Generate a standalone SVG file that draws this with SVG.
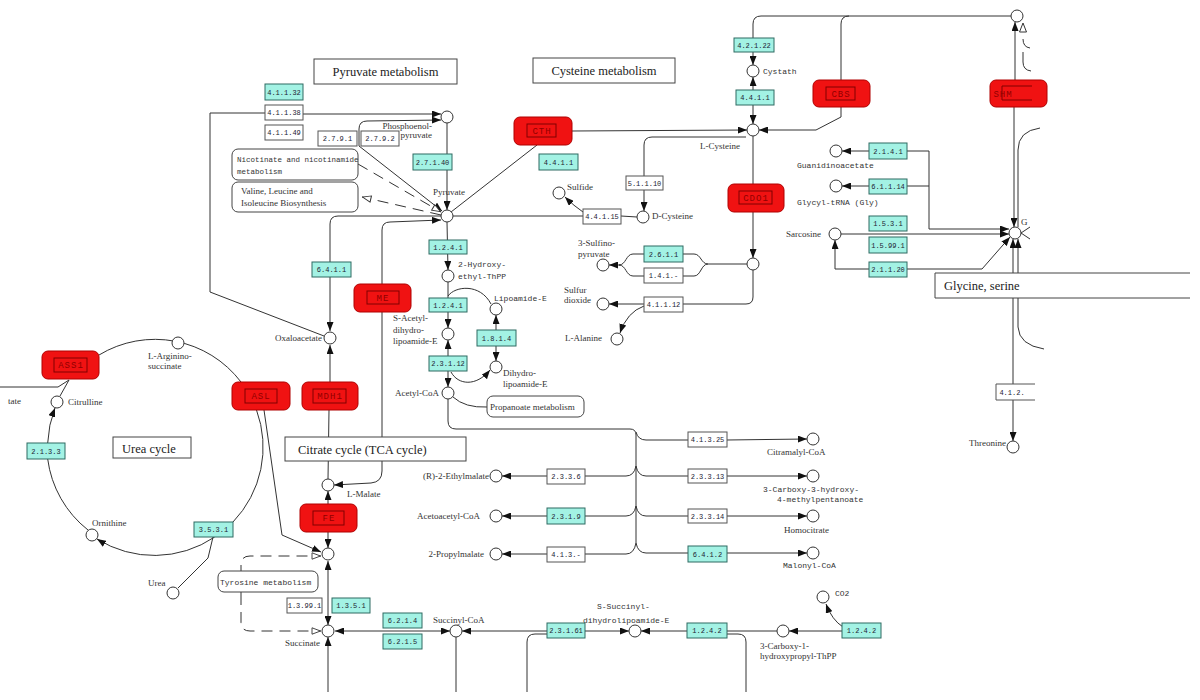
<svg xmlns="http://www.w3.org/2000/svg" width="1200" height="700" viewBox="0 0 1200 700">
<defs>
<marker id="a" viewBox="0 0 10 10" refX="10" refY="5" markerWidth="9" markerHeight="7" preserveAspectRatio="none" markerUnits="userSpaceOnUse" orient="auto-start-reverse"><path d="M0,0 L10,5 L0,10 z" fill="#111"/></marker>
<marker id="h" viewBox="0 0 10 10" refX="10" refY="5" markerWidth="10" markerHeight="8" preserveAspectRatio="none" markerUnits="userSpaceOnUse" orient="auto"><path d="M1,1 L9.5,5 L1,9 z" fill="#fff" stroke="#333" stroke-width="1"/></marker>
<style>
.l{fill:none;stroke:#333;stroke-width:1}
.d{stroke-dasharray:11,7}
.ae{marker-end:url(#a)}
.as{marker-start:url(#a)}
.he{marker-end:url(#h)}
.cp{fill:#fff;stroke:#333;stroke-width:1}
.c rect{fill:#a3f2e4;stroke:#2e6b62;stroke-width:1}
.w rect,.w path{fill:#fff;stroke:#555;stroke-width:1}
.c text,.w text{font-family:"Liberation Mono",monospace;font-size:7px;fill:#223;text-anchor:middle}
.g .o{fill:#f01212;stroke:#b00000;stroke-width:1}
.g .i{fill:none;stroke:#800000;stroke-width:1}
.g text{font-family:"Liberation Mono",monospace;font-size:9px;fill:#900000;text-anchor:middle;letter-spacing:1px}
.mp rect,.mp path{fill:#fff;stroke:#444;stroke-width:1}
.t{font-family:"Liberation Serif",serif;font-size:12.5px;fill:#222}
.s{font-family:"Liberation Serif",serif;font-size:9px;fill:#333}
.m{font-family:"Liberation Mono",monospace;font-size:8px;fill:#333}
.k{font-family:"Liberation Mono",monospace;font-size:7.5px;fill:#333}
</style>
</defs>
<rect width="1200" height="700" fill="#fff"/>

<g id="connectors">
<path class="l ae" d="M303,114 L441,114"/>
<path class="l" d="M265,113 L210,113 L210,292 L324,336"/>
<path class="l ae" d="M359,146 L359,129 Q359,121 367,121 L441,120"/>
<path class="l ae" d="M359,146 L442,211"/>
<path class="l ae" d="M447,123 L447,210"/>
<path class="l d he" d="M358,164 L441,212"/>
<path class="l d he" d="M441,215 L362,197"/>
<path class="l" d="M451,212 L537,145"/>
<path class="l ae" d="M572,131 L747,130"/>
<path class="l" d="M453,216 L583,216"/>
<path class="l ae" d="M583,212 Q574,206 565,197"/>
<path class="l" d="M621,216 L637,217"/>
<path class="l ae" d="M746,137 L652,137 Q644,137 644,145 L644,211"/>
<path class="l ae" d="M753,52 L753,65"/>
<path class="l ae" d="M753,90 L753,77"/>
<path class="l ae" d="M753,105 L753,124"/>
<path class="l" d="M753,38 L753,24 Q753,16 761,16 L1011,16"/>
<path class="l" d="M841,80 L841,24 Q841,16 849,16"/>
<path class="l ae" d="M841,107 L841,117 L816,130 L759,130"/>
<path class="l" d="M753,136 L753,184"/>
<path class="l ae" d="M753,212 L753,258"/>
<path class="l" d="M747,264 L708,264 C701,264 701,254 694,254 L683,254 M708,264 C701,264 701,276 694,276 L683,276"/>
<path class="l" d="M644,254 L633,254 C626,254 626,265 619,265 M644,276 L633,276 C626,276 626,265 619,265"/>
<path class="l ae" d="M620,265 L609,265"/>
<path class="l" d="M753,270 L753,297 Q753,304 746,304 L683,304"/>
<path class="l ae" d="M644,304 L609,304"/>
<path class="l ae" d="M644,306 Q627,312 620,333"/>
<path class="l ae" d="M1015,80 L1015,22"/>
<polygon points="1023,23 1019.5,32 1026.5,32" fill="#fff" stroke="#333"/>
<path class="l" d="M1023,39 Q1023,47 1030,48 M1023,52 L1023,62 Q1023,70 1031,71"/>
<path class="l ae" d="M1014,107 L1014,227"/>
<path class="l" d="M1040,128 Q1018,131 1018,150 L1018,227"/>
<path class="l ae" d="M1018,327 L1018,239"/>
<path class="l" d="M1044,349 Q1019,345 1018,327"/>
<path class="l as ae" d="M1013,239 L1013,441"/>
<path class="l" d="M1030,227 L1021,233 L1030,239"/>
<path class="l ae" d="M869,151 L842,151"/>
<path class="l ae" d="M869,186 L842,186"/>
<path class="l ae" d="M907,151 L929,151 L929,229 L1009,229"/>
<path class="l" d="M907,186 L929,186"/>
<path class="l ae" d="M841,234 L1009,234"/>
<path class="l ae" d="M869,269 L835,269 L835,240"/>
<path class="l ae" d="M907,269 L982,269 L1010,237"/>
<path class="l ae" d="M447,222 L448,270"/>
<path class="l ae" d="M448,282 L448,328"/>
<path class="l" d="M448,296 C455,286 480,283 491,304"/>
<path class="l ae" d="M448,372 L448,340"/>
<path class="l ae" d="M448,372 L448,387"/>
<path class="l ae" d="M451,372 C458,385 476,387 490,370"/>
<path class="l ae" d="M496,330 L496,315"/>
<path class="l ae" d="M496,346 L496,361"/>
<path class="l" d="M453,397 Q465,408 487,407"/>
<path class="l" d="M448,399 L448,421 Q448,429 456,429 L630,429 Q636,429 636,435 L636,543"/>
<path class="l" d="M636,432 Q638,440 646,440 L688,440 M636,466 Q638,476 646,476 L688,476 M636,506 Q638,516 646,516 L688,516 M636,543 Q638,553 646,553 L688,553"/>
<path class="l" d="M636,466 Q634,476 626,476 L585,476 M636,506 Q634,516 626,516 L585,516 M636,543 Q634,554 626,554 L585,554"/>
<path class="l ae" d="M727,440 L807,439"/>
<path class="l ae" d="M727,476 L807,476"/>
<path class="l ae" d="M727,516 L807,516"/>
<path class="l ae" d="M727,553 L807,553"/>
<path class="l ae" d="M547,476 L502,476"/>
<path class="l ae" d="M547,516 L502,516"/>
<path class="l ae" d="M547,554 L502,554"/>
<path class="l ae" d="M441,216 L338,216 Q330,216 330,224 L330,331"/>
<path class="l ae" d="M382,284 L382,230 Q382,222 390,222 L441,220"/>
<path class="l ae" d="M330,382 L330,345"/>
<path class="l" d="M329,410 L328,479"/>
<path class="l ae" d="M382,312 L382,471 Q382,482 371,483 L334,485"/>
<path class="l ae" d="M328,504 L328,491"/>
<path class="l ae" d="M328,532 L328,548"/>
<path class="l as ae" d="M328,561 L328,625"/>
<path class="l ae" d="M328,692 L328,637"/>
<path class="l as ae" d="M335,631 L450,631"/>
<path class="l ae" d="M547,631 L462,631"/>
<path class="l ae" d="M585,631 L629,631"/>
<path class="l ae" d="M687,631 L641,631"/>
<path class="l" d="M527,692 L527,642 Q527,634 535,634 L547,634"/>
<path class="l" d="M727,631 L777,631"/>
<path class="l ae" d="M842,631 L789,631"/>
<path class="l ae" d="M843,627 Q832,620 826,604"/>
<path class="l" d="M727,634 L738,634 Q746,634 746,642 L746,692"/>
<path class="l" d="M456,637 L456,692"/>
<path class="l" d="M99,355 A108,108 0 0 1 241,382"/>
<path class="l" d="M256.5,410 A108,108 0 0 1 233,522"/>
<path class="l ae" d="M214.7,537 A108,108 0 0 1 97,539"/>
<path class="l" d="M88,530 A108,108 0 0 1 47.7,459"/>
<path class="l ae" d="M47.7,443 A108,108 0 0 1 55,408"/>
<path class="l" d="M60,396 L69,380 M0,387 L58,387 L69,380"/>
<path class="l" d="M213,537 L208,558 L178,588"/>
<path class="l ae" d="M264,410 L282,535 L321,552"/>
<path class="l d he" d="M241,594 L241,565 Q241,556 250,556 L321,556"/>
<path class="l d he" d="M241,594 L241,622 Q241,631 250,631 L321,631"/>
</g>

<g id="maps" class="mp">
<g id="map-pyruvate"><rect x="314" y="59" width="143" height="25"/><text class="t" x="385.5" y="76" text-anchor="middle">Pyruvate metabolism</text></g>
<g id="map-cysteine"><rect x="533" y="58" width="142" height="25"/><text class="t" x="604" y="75" text-anchor="middle">Cysteine metabolism</text></g>
<g id="map-nicotinate"><rect x="232" y="149" width="126" height="31" rx="6"/><text class="k" x="237" y="162">Nicotinate and nicotinamide</text><text class="k" x="237" y="174">metabolism</text></g>
<g id="map-valine"><rect x="232" y="182" width="126" height="30" rx="6"/><text class="s" x="241" y="194">Valine, Leucine and</text><text class="s" x="241" y="206">Isoleucine Biosynthesis</text></g>
<g id="map-propanoate"><rect x="487" y="396" width="97" height="21" rx="6"/><text class="s" x="490" y="410">Propanoate metabolism</text></g>
<g id="map-citrate"><rect x="285" y="437" width="181" height="24"/><text class="t" x="298" y="454">Citrate cycle (TCA cycle)</text></g>
<g id="map-urea"><rect x="113" y="437" width="78" height="21"/><text class="t" x="122" y="453">Urea cycle</text></g>
<g id="map-tyrosine"><rect x="218" y="571" width="100" height="21" rx="6"/><text class="m" x="220" y="585" font-size="8.5">Tyrosine metabolism</text></g>
<g id="map-glycine"><path d="M1190,273 L935,273 L935,298 L1190,298" fill="none"/><text class="t" x="944" y="290" font-size="12">Glycine, serine</text></g>
</g>

<g id="genes">
<g id="gene-CTH" class="g"><rect class="o" x="514" y="117" width="58" height="28" rx="6"/><rect class="i" x="527" y="124" width="29" height="13"/><text x="542" y="134">CTH</text></g>
<g id="gene-CBS" class="g"><rect class="o" x="813" y="80" width="57" height="27" rx="6"/><rect class="i" x="826" y="87" width="29" height="13"/><text x="841" y="97">CBS</text></g>
<g id="gene-SHM" class="g"><rect class="o" x="990" y="80" width="57" height="27" rx="6"/><path class="i" d="M1032,86 L1002,86 L1002,100 L1032,100"/><text x="1003" y="97" text-anchor="start">SHM</text></g>
<g id="gene-CDO1" class="g"><rect class="o" x="728" y="184" width="56" height="28" rx="6"/><rect class="i" x="739" y="191" width="33" height="13"/><text x="756" y="201">CDO1</text></g>
<g id="gene-ME" class="g"><rect class="o" x="354" y="284" width="57" height="28" rx="6"/><rect class="i" x="367" y="291" width="32" height="13"/><text x="383" y="301">ME</text></g>
<g id="gene-MDH1" class="g"><rect class="o" x="302" y="382" width="56" height="28" rx="6"/><rect class="i" x="313" y="389" width="33" height="14"/><text x="330" y="399">MDH1</text></g>
<g id="gene-ASS1" class="g"><rect class="o" x="42" y="351" width="57" height="28" rx="6"/><rect class="i" x="54" y="358" width="33" height="14"/><text x="71" y="368">ASS1</text></g>
<g id="gene-ASL" class="g"><rect class="o" x="232" y="382" width="58" height="28" rx="6"/><rect class="i" x="245" y="389" width="32" height="14"/><text x="261" y="399">ASL</text></g>
<g id="gene-FE" class="g"><rect class="o" x="300" y="504" width="57" height="28" rx="6"/><rect class="i" x="313" y="511" width="31" height="14"/><text x="329" y="521">FE</text></g>
</g>

<g id="enzymes">
<g id="ec-4-1-1-32" class="c"><rect x="265" y="84" width="38" height="16"/><text x="284" y="94.5">4.1.1.32</text></g>
<g id="ec-4-1-1-38" class="w"><rect x="265" y="105" width="38" height="15"/><text x="284" y="115">4.1.1.38</text></g>
<g id="ec-4-1-1-49" class="w"><rect x="265" y="125" width="38" height="15"/><text x="284" y="135">4.1.1.49</text></g>
<g id="ec-2-7-9-1" class="w"><rect x="318" y="131" width="39" height="15"/><text x="337.5" y="141">2.7.9.1</text></g>
<g id="ec-2-7-9-2" class="w"><rect x="361" y="131" width="38" height="15"/><text x="380" y="141">2.7.9.2</text></g>
<g id="ec-2-7-1-40" class="c"><rect x="413" y="154" width="39" height="16"/><text x="432.5" y="164.5">2.7.1.40</text></g>
<g id="ec-4-4-1-1a" class="c"><rect x="539" y="154" width="39" height="16"/><text x="558.5" y="164.5">4.4.1.1</text></g>
<g id="ec-4-2-1-22" class="c"><rect x="734" y="38" width="40" height="14"/><text x="754" y="47.5">4.2.1.22</text></g>
<g id="ec-4-4-1-1b" class="c"><rect x="736" y="90" width="38" height="15"/><text x="755" y="100">4.4.1.1</text></g>
<g id="ec-4-4-1-15" class="w"><rect x="583" y="209" width="38" height="15"/><text x="602" y="219">4.4.1.15</text></g>
<g id="ec-5-1-1-10" class="w"><rect x="626" y="176" width="37" height="14"/><text x="644.5" y="185.5">5.1.1.10</text></g>
<g id="ec-2-1-4-1" class="c"><rect x="869" y="143" width="38" height="16"/><text x="888" y="153.5">2.1.4.1</text></g>
<g id="ec-6-1-1-14" class="c"><rect x="869" y="179" width="38" height="15"/><text x="888" y="189">6.1.1.14</text></g>
<g id="ec-1-5-3-1" class="c"><rect x="869" y="216" width="38" height="15"/><text x="888" y="226">1.5.3.1</text></g>
<g id="ec-1-5-99-1" class="c"><rect x="869" y="237" width="38" height="16"/><text x="888" y="247.5">1.5.99.1</text></g>
<g id="ec-2-1-1-20" class="c"><rect x="869" y="262" width="38" height="15"/><text x="888" y="272">2.1.1.20</text></g>
<g id="ec-2-6-1-1" class="c"><rect x="644" y="246" width="39" height="16"/><text x="663.5" y="256.5">2.6.1.1</text></g>
<g id="ec-1-4-1-x" class="w"><rect x="644" y="268" width="39" height="15"/><text x="663.5" y="278">1.4.1.-</text></g>
<g id="ec-4-1-1-12" class="w"><rect x="644" y="297" width="39" height="15"/><text x="663.5" y="307">4.1.1.12</text></g>
<g id="ec-4-1-2-x" class="w"><path d="M1035,384 L996,384 L996,400 L1035,400"/><text x="1012" y="394.5">4.1.2.</text></g>
<g id="ec-1-2-4-1a" class="c"><rect x="429" y="240" width="38" height="14"/><text x="448" y="249.5">1.2.4.1</text></g>
<g id="ec-1-2-4-1b" class="c"><rect x="429" y="298" width="38" height="14"/><text x="448" y="307.5">1.2.4.1</text></g>
<g id="ec-2-3-1-12" class="c"><rect x="429" y="356" width="38" height="15"/><text x="448" y="366">2.3.1.12</text></g>
<g id="ec-1-8-1-4" class="c"><rect x="477" y="330" width="39" height="16"/><text x="496.5" y="340.5">1.8.1.4</text></g>
<g id="ec-6-4-1-1" class="c"><rect x="312" y="262" width="39" height="15"/><text x="331.5" y="272">6.4.1.1</text></g>
<g id="ec-4-1-3-25" class="w"><rect x="688" y="432" width="39" height="15"/><text x="707.5" y="442">4.1.3.25</text></g>
<g id="ec-2-3-3-13" class="w"><rect x="688" y="469" width="39" height="14"/><text x="707.5" y="478.5">2.3.3.13</text></g>
<g id="ec-2-3-3-14" class="w"><rect x="688" y="509" width="39" height="14"/><text x="707.5" y="518.5">2.3.3.14</text></g>
<g id="ec-6-4-1-2" class="c"><rect x="688" y="546" width="39" height="16"/><text x="707.5" y="556.5">6.4.1.2</text></g>
<g id="ec-2-3-3-6" class="w"><rect x="547" y="469" width="38" height="15"/><text x="566" y="479">2.3.3.6</text></g>
<g id="ec-2-3-1-9" class="c"><rect x="547" y="508" width="38" height="16"/><text x="566" y="518.5">2.3.1.9</text></g>
<g id="ec-4-1-3-x" class="w"><rect x="547" y="547" width="38" height="15"/><text x="566" y="557">4.1.3.-</text></g>
<g id="ec-2-1-3-3" class="c"><rect x="27" y="443" width="38" height="16"/><text x="46" y="453.5">2.1.3.3</text></g>
<g id="ec-3-5-3-1" class="c"><rect x="194" y="522" width="39" height="15"/><text x="213.5" y="532">3.5.3.1</text></g>
<g id="ec-1-3-99-1" class="w"><rect x="287" y="598" width="35" height="15"/><text x="304.5" y="608">1.3.99.1</text></g>
<g id="ec-1-3-5-1" class="c"><rect x="332" y="598" width="38" height="15"/><text x="351" y="608">1.3.5.1</text></g>
<g id="ec-6-2-1-4" class="c"><rect x="383" y="613" width="39" height="15"/><text x="402.5" y="623">6.2.1.4</text></g>
<g id="ec-6-2-1-5" class="c"><rect x="383" y="634" width="39" height="15"/><text x="402.5" y="644">6.2.1.5</text></g>
<g id="ec-2-3-1-61" class="c"><rect x="547" y="623" width="38" height="15"/><text x="566" y="633">2.3.1.61</text></g>
<g id="ec-1-2-4-2a" class="c"><rect x="687" y="623" width="40" height="15"/><text x="707" y="633">1.2.4.2</text></g>
<g id="ec-1-2-4-2b" class="c"><rect x="842" y="623" width="39" height="15"/><text x="861.5" y="633">1.2.4.2</text></g>
</g>

<g id="compounds">
<g id="c-pep"><circle class="cp" cx="447" cy="117" r="6"/><text class="s" x="432" y="129" text-anchor="end">Phosphoenol-</text><text class="s" x="432" y="138" text-anchor="end">pyruvate</text></g>
<g id="c-pyruvate"><circle class="cp" cx="447" cy="216" r="6"/><text class="s" x="433" y="195">Pyruvate</text></g>
<g id="c-sulfide"><circle class="cp" cx="559" cy="193" r="6"/><text class="s" x="567" y="190">Sulfide</text></g>
<g id="c-lcys"><circle class="cp" cx="753" cy="130" r="6"/><text class="s" x="700" y="149">L-Cysteine</text></g>
<g id="c-cystath"><circle class="cp" cx="753" cy="71" r="6"/><text class="m" x="763" y="74">Cystath</text></g>
<g id="c-dcys"><circle class="cp" cx="643" cy="217" r="6"/><text class="s" x="652" y="219">D-Cysteine</text></g>
<g id="c-top"><circle class="cp" cx="1017" cy="16" r="6"/></g>
<g id="c-guan"><circle class="cp" cx="836" cy="151" r="6"/><text class="m" x="797" y="168">Guanidinoacetate</text></g>
<g id="c-glytrna"><circle class="cp" cx="836" cy="186" r="6"/><text class="m" x="797" y="205">Glycyl-tRNA (Gly)</text></g>
<g id="c-sarcosine"><circle class="cp" cx="835" cy="234" r="6"/><text class="s" x="821" y="237" text-anchor="end">Sarcosine</text></g>
<g id="c-gly"><circle class="cp" cx="1015" cy="233" r="6"/><text class="s" x="1021" y="225">G</text></g>
<g id="c-sulfinoala"><circle class="cp" cx="753" cy="264" r="6"/></g>
<g id="c-sulfinopyr"><circle class="cp" cx="603" cy="265" r="6"/><text class="s" x="578" y="246">3-Sulfino-</text><text class="s" x="578" y="257">pyruvate</text></g>
<g id="c-so2"><circle class="cp" cx="603" cy="304" r="6"/><text class="s" x="564" y="293">Sulfur</text><text class="s" x="564" y="303">dioxide</text></g>
<g id="c-lala"><circle class="cp" cx="617" cy="339" r="6"/><text class="s" x="565" y="341">L-Alanine</text></g>
<g id="c-thr"><circle class="cp" cx="1013" cy="447" r="6"/><text class="s" x="1006" y="446" text-anchor="end">Threonine</text></g>
<g id="c-hethpp"><circle class="cp" cx="448" cy="276" r="6"/><text class="m" x="458" y="267">2-Hydroxy-</text><text class="m" x="458" y="279">ethyl-ThPP</text></g>
<g id="c-lipo"><circle class="cp" cx="496" cy="309" r="6"/><text class="m" x="494" y="301">Lipoamide-E</text></g>
<g id="c-sacetyl"><circle class="cp" cx="448" cy="334" r="6"/><text class="s" x="393" y="321">S-Acetyl-</text><text class="s" x="393" y="333">dihydro-</text><text class="s" x="393" y="344">lipoamide-E</text></g>
<g id="c-dihydrolipo"><circle class="cp" cx="496" cy="367" r="6"/><text class="s" x="503" y="376">Dihydro-</text><text class="s" x="503" y="387">lipoamide-E</text></g>
<g id="c-acetylcoa"><circle class="cp" cx="448" cy="393" r="6"/><text class="s" x="439" y="396" text-anchor="end">Acetyl-CoA</text></g>
<g id="c-oxalo"><circle class="cp" cx="330" cy="338" r="6"/><text class="s" x="322" y="341" text-anchor="end">Oxaloacetate</text></g>
<g id="c-argsucc"><circle class="cp" cx="178" cy="343" r="6"/><text class="s" x="148" y="359">L-Arginino-</text><text class="s" x="148" y="369">succinate</text></g>
<g id="c-citrulline"><circle class="cp" cx="57" cy="402" r="6"/><text class="s" x="68" y="405">Citrulline</text></g>
<g id="c-aspartate"><text class="s" x="8" y="404">tate</text></g>
<g id="c-ornithine"><circle class="cp" cx="92" cy="535" r="6"/><text class="s" x="92" y="526">Ornithine</text></g>
<g id="c-urea"><circle class="cp" cx="173" cy="593" r="6"/><text class="s" x="148" y="586">Urea</text></g>
<g id="c-lmalate"><circle class="cp" cx="328" cy="485" r="6"/><text class="s" x="347" y="497">L-Malate</text></g>
<g id="c-fumarate"><circle class="cp" cx="328" cy="554" r="6"/></g>
<g id="c-succinate"><circle class="cp" cx="328" cy="631" r="6"/><text class="s" x="285" y="646">Succinate</text></g>
<g id="c-succcoa"><circle class="cp" cx="456" cy="631" r="6"/><text class="s" x="433" y="623">Succinyl-CoA</text></g>
<g id="c-ssucc"><circle class="cp" cx="635" cy="631" r="6"/><text class="m" x="597" y="609">S-Succinyl-</text><text class="m" x="583" y="623">dihydrolipoamide-E</text></g>
<g id="c-carboxythpp"><circle class="cp" cx="783" cy="631" r="6"/><text class="s" x="760" y="649">3-Carboxy-1-</text><text class="s" x="760" y="659">hydroxypropyl-ThPP</text></g>
<g id="c-co2"><circle class="cp" cx="823" cy="597" r="6"/><text class="m" x="835" y="596">CO2</text></g>
<g id="c-citramalyl"><circle class="cp" cx="813" cy="439" r="6"/><text class="s" x="767" y="455">Citramalyl-CoA</text></g>
<g id="c-carboxyhm"><circle class="cp" cx="813" cy="476" r="6"/><text class="m" x="763" y="492">3-Carboxy-3-hydroxy-</text><text class="m" x="777" y="502">4-methylpentanoate</text></g>
<g id="c-homocitrate"><circle class="cp" cx="813" cy="516" r="6"/><text class="s" x="784" y="533">Homocitrate</text></g>
<g id="c-malonyl"><circle class="cp" cx="813" cy="553" r="6"/><text class="m" x="783" y="568">Malonyl-CoA</text></g>
<g id="c-ethylmalate"><circle class="cp" cx="496" cy="476" r="6"/><text class="s" x="489" y="479" text-anchor="end">(R)-2-Ethylmalate</text></g>
<g id="c-acetoacetyl"><circle class="cp" cx="496" cy="516" r="6"/><text class="s" x="480" y="519" text-anchor="end">Acetoacetyl-CoA</text></g>
<g id="c-propylmalate"><circle class="cp" cx="496" cy="554" r="6"/><text class="s" x="484" y="557" text-anchor="end">2-Propylmalate</text></g>
</g>
</svg>
